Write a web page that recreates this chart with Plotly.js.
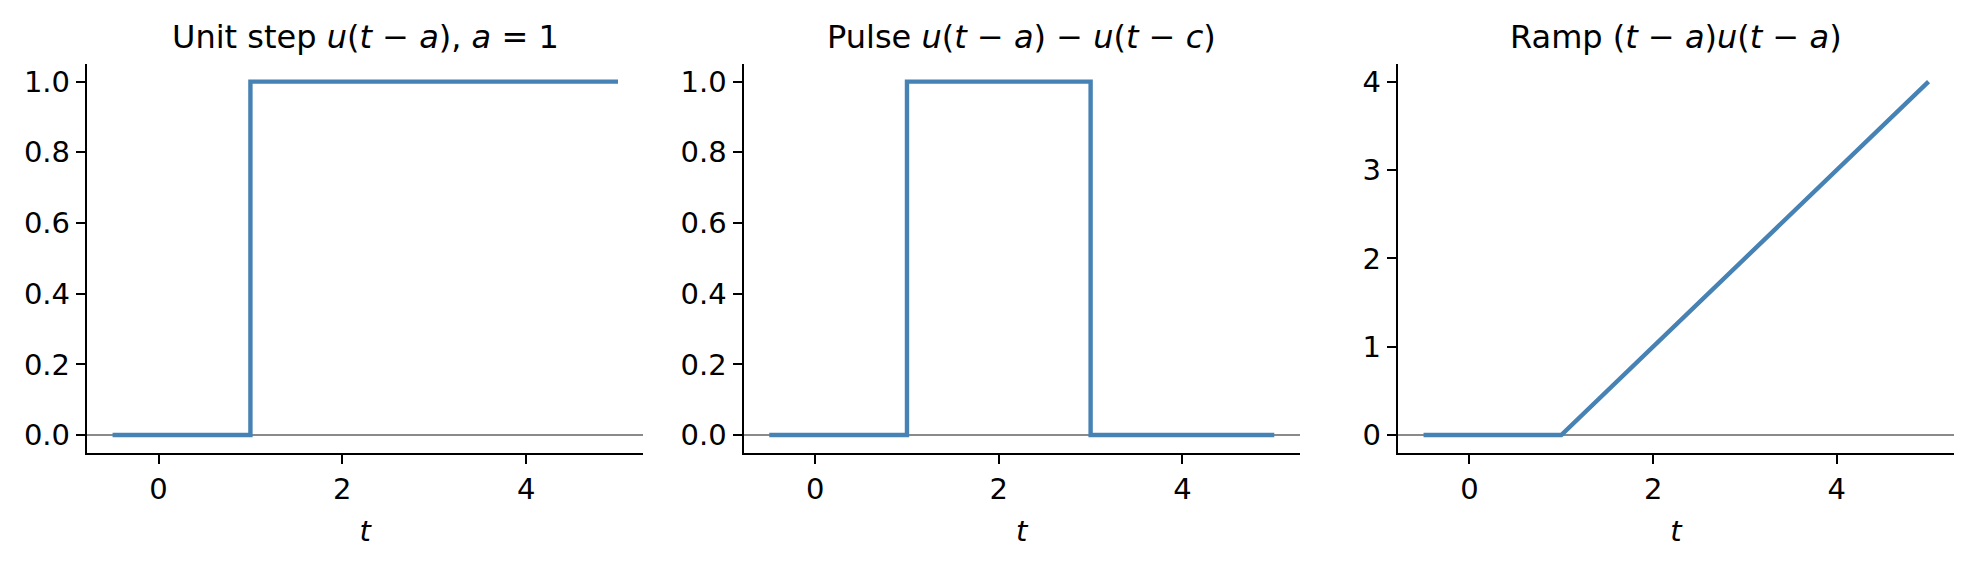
<!DOCTYPE html>
<html>
<head>
<meta charset="utf-8">
<script src="https://cdn.plot.ly/plotly-3.0.1.min.js"></script>
<style>
  html, body { margin: 0; padding: 0; background: #ffffff; }
  #chart { width: 1974px; height: 566px; }
</style>
</head>
<body>
<div id="chart"></div>
<script>
// ---- Data ----
const stepT = [-0.5, 1, 1, 5];
const stepU = [0, 0, 1, 1];

const pulseT = [-0.5, 1, 1, 3, 3, 5];
const pulseU = [0, 0, 1, 1, 0, 0];

const rampT = [-0.5, 1, 5];
const rampU = [0, 0, 4];

const panelTitles = [
  "Unit step <i>u</i>(<i>t</i> − <i>a</i>), <i>a</i> = 1",
  "Pulse <i>u</i>(<i>t</i> − <i>a</i>) − <i>u</i>(<i>t</i> − <i>c</i>)",
  "Ramp (<i>t</i> − <i>a</i>)<i>u</i>(<i>t</i> − <i>a</i>)"
];
const xTickVals = [0, 2, 4];
const yTickValsUnit = [0, 0.2, 0.4, 0.6, 0.8, 1.0];
const yTickValsRamp = [0, 1, 2, 3, 4];
const xLabel = "<i>t</i>";

// ---- Style ----
const W = 1974, H = 566;
const FONT = "DejaVu Sans";
const LINE_COLOR = "#4682b4";
const domains = [
  [87.3 / W, 643.3 / W],
  [744 / W, 1299.5 / W],
  [1398.3 / W, 1953.8 / W]
];
const yDomain = [(H - 452.7) / H, (H - 64) / H];

function trace(x, y, n) {
  return {
    x: x, y: y, type: "scatter", mode: "lines",
    line: { color: LINE_COLOR, width: 4.4 },
    xaxis: n === 1 ? "x" : "x" + n,
    yaxis: n === 1 ? "y" : "y" + n,
    hoverinfo: "skip", showlegend: false
  };
}

function xaxis(i) {
  return {
    domain: domains[i],
    anchor: i === 0 ? "y" : "y" + (i + 1),
    range: [-0.775, 5.275],
    tickvals: xTickVals,
    ticks: "outside", ticklen: 9.5, tickwidth: 2, tickcolor: "#000",
    showline: true, linecolor: "#000", linewidth: 2, mirror: false,
    showgrid: false, zeroline: false,
    tickfont: { family: FONT, size: 29, color: "#000" },
    title: { text: xLabel, font: { family: FONT, size: 29, color: "#000" }, standoff: 16 },
    automargin: false, fixedrange: true
  };
}

function yaxis(i, range, vals, fmt) {
  return {
    domain: yDomain,
    anchor: i === 0 ? "x" : "x" + (i + 1),
    range: range,
    tickvals: vals,
    tickformat: fmt,
    ticks: "outside", ticklen: 9.5, tickwidth: 2, tickcolor: "#000",
    showline: true, linecolor: "#000", linewidth: 2, mirror: false,
    showgrid: false,
    zeroline: true, zerolinecolor: "#8a8a8a", zerolinewidth: 1.6,
    tickfont: { family: FONT, size: 29, color: "#000" },
    automargin: false, fixedrange: true
  };
}

const data = [
  trace(stepT, stepU, 1),
  trace(pulseT, pulseU, 2),
  trace(rampT, rampU, 3)
];

const annotations = panelTitles.map((t, i) => ({
  text: t,
  xref: "paper", yref: "paper",
  x: (domains[i][0] + domains[i][1]) / 2,
  y: (H - 37) / H,
  xanchor: "center", yanchor: "middle",
  showarrow: false,
  font: { family: FONT, size: 32, color: "#000" }
}));

const layout = {
  width: W, height: H,
  margin: { l: 0, r: 0, t: 0, b: 0, pad: 0 },
  paper_bgcolor: "#ffffff", plot_bgcolor: "#ffffff",
  font: { family: FONT, color: "#000" },
  showlegend: false,
  xaxis: xaxis(0), xaxis2: xaxis(1), xaxis3: xaxis(2),
  yaxis: yaxis(0, [-0.05, 1.05], yTickValsUnit, ".1f"),
  yaxis2: yaxis(1, [-0.05, 1.05], yTickValsUnit, ".1f"),
  yaxis3: yaxis(2, [-0.2, 4.2], yTickValsRamp, "d"),
  annotations: annotations
};

Plotly.newPlot("chart", data, layout, { staticPlot: true, displayModeBar: false });
</script>
</body>
</html>
